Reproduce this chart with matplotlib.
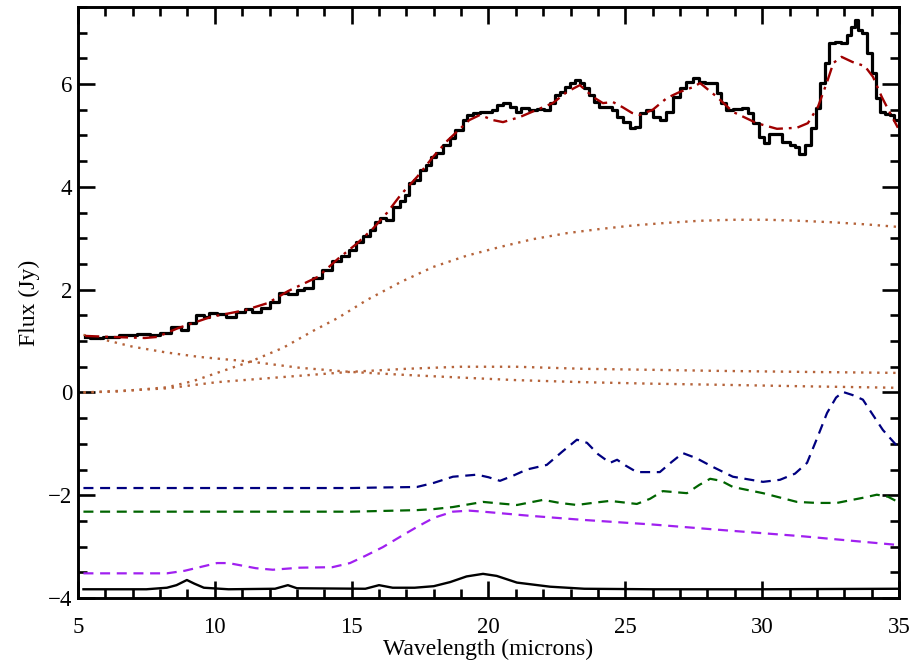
import numpy as np
import matplotlib
matplotlib.use("Agg")
import matplotlib.pyplot as plt
from matplotlib.ticker import MultipleLocator

# --- datos ---
# espectro observado (histograma negro)
obs_wl = [5.26, 5.62, 6.2, 6.83, 7.45, 7.8, 8.18, 8.65, 8.9, 9.13, 9.5, 9.68, 9.93,
          10.22, 10.59, 10.96, 11.28, 11.47, 11.87, 12.2, 12.49, 12.86, 13.15, 13.4,
          13.77, 14.1, 14.46, 14.75, 15.05, 15.3, 15.55, 15.78, 15.96, 16.14, 16.4,
          16.65, 16.85, 17.02, 17.2, 17.38, 17.6, 17.86, 17.97, 18.23, 18.48, 18.7,
          18.85, 19.03, 19.14, 19.32, 19.58, 19.8, 20.0, 20.23, 20.42, 20.67, 20.9,
          21.08, 21.33, 21.62, 21.9, 22.13, 22.35, 22.5, 22.72, 22.9, 23.08, 23.27,
          23.4, 23.6, 23.78, 23.96, 24.14, 24.44, 24.62, 24.8, 25.06, 25.28, 25.46,
          25.64, 25.9, 26.15, 26.37, 26.63, 26.88, 27.1, 27.36, 27.6, 27.8, 28.05,
          28.27, 28.4, 28.57, 28.8, 29.1, 29.4, 29.55, 29.8, 30.0, 30.17, 30.36,
          30.58, 30.9, 31.1, 31.27, 31.45, 31.67, 31.9, 32.04, 32.2, 32.37, 32.55,
          32.77, 33.0, 33.2, 33.3, 33.45, 33.57, 33.75, 33.94, 34.1, 34.23, 34.4,
          34.57, 34.74, 34.92, 35.1]
obs_flux = [1.08, 1.06, 1.08, 1.12, 1.14, 1.12, 1.16, 1.27, 1.22, 1.35, 1.51, 1.47, 1.55,
            1.53, 1.47, 1.57, 1.62, 1.57, 1.64, 1.76, 1.94, 1.92, 1.99, 2.03,
            2.23, 2.38, 2.55, 2.65, 2.77, 2.93, 3.05, 3.16, 3.32, 3.39, 3.36,
            3.61, 3.72, 3.84, 4.07, 4.13, 4.33, 4.43, 4.58, 4.66, 4.81, 4.95,
            5.1, 5.1, 5.3, 5.4, 5.44, 5.46, 5.46, 5.5, 5.59, 5.63, 5.55,
            5.46, 5.54, 5.5, 5.52, 5.5, 5.63, 5.79, 5.85, 5.94, 6.02, 6.08,
            6.02, 5.92, 5.79, 5.65, 5.55, 5.55, 5.5, 5.36, 5.26, 5.15, 5.17,
            5.44, 5.5, 5.36, 5.3, 5.46, 5.75, 5.92, 6.05, 6.12, 6.04, 6.02,
            6.02, 5.83, 5.63, 5.5, 5.52, 5.54, 5.44, 5.24, 4.97, 4.85, 5.03,
            5.03, 4.87, 4.82, 4.78, 4.64, 4.82, 5.15, 5.54, 6.02, 6.41, 6.8,
            6.82, 6.8, 6.96, 7.11, 7.25, 7.05, 6.99, 6.6, 6.22, 5.73, 5.46,
            5.42, 5.4, 5.3, 5.2]

# modelo total (raya-punto rojo)
fit_wl = [5.26, 6.2, 7.45, 7.9, 8.65, 9.86, 11.1, 11.94, 12.67, 13.77, 14.5, 15.2, 15.8,
          16.3, 16.8, 17.4, 18.0, 18.5, 18.9, 19.3, 19.69, 20.16, 20.53, 21.15, 21.77,
          22.35, 22.87, 23.34, 23.82, 24.18, 24.55, 24.9, 25.24, 25.53, 26.0, 26.52,
          27.0, 27.47, 27.73, 28.35, 28.93, 29.8, 30.54, 31.27, 31.67, 32.04, 32.37,
          32.6, 32.9, 33.3, 33.75, 34.05, 34.37, 34.67, 34.96]
fit_flux = [1.1, 1.08, 1.06, 1.08, 1.25, 1.47, 1.6, 1.74, 1.97, 2.25, 2.6, 2.9, 3.2,
            3.5, 3.85, 4.2, 4.6, 4.9, 5.1, 5.3, 5.4, 5.3, 5.26, 5.36, 5.5,
            5.63, 5.85, 5.98, 5.75, 5.63, 5.65, 5.55, 5.44, 5.4, 5.5, 5.73,
            5.85, 5.94, 6.02, 5.75, 5.46, 5.24, 5.13, 5.15, 5.24, 5.56, 6.04,
            6.41, 6.53, 6.43, 6.35, 6.14, 5.75, 5.44, 5.15]

# componentes continuas (punteadas)
warm_wl = [5.2, 6.5, 8.25, 9.2, 10.08, 11.3, 12.5, 13.6, 14.5, 15.56, 16.8, 17.97, 19.2,
           20.42, 21.6, 22.87, 24.07, 25.3, 26.52, 27.7, 28.93, 30.2, 31.38, 32.6, 33.8, 35.0]
warm_flux = [0.0, 0.02, 0.1, 0.22, 0.38, 0.6, 0.87, 1.2, 1.45, 1.8, 2.15, 2.44, 2.66,
             2.83, 2.98, 3.1, 3.18, 3.25, 3.3, 3.34, 3.36, 3.36, 3.34, 3.31, 3.27, 3.22]
hot_wl = [5.2, 6.0, 7.0, 8.2, 9.45, 11.3, 13.1, 14.94, 17.0, 18.96, 21.0, 23.45, 26.0,
          28.35, 31.5, 35.0]
hot_flux = [1.12, 1.02, 0.89, 0.78, 0.69, 0.6, 0.48, 0.4, 0.34, 0.29, 0.24, 0.2, 0.17,
            0.15, 0.12, 0.09]
cool_wl = [5.2, 6.5, 8.25, 10.08, 12.5, 14.94, 17.0, 18.96, 21.0, 23.45, 26.0, 28.35, 31.5, 35.0]
cool_flux = [0.0, 0.03, 0.08, 0.2, 0.3, 0.4, 0.46, 0.5, 0.5, 0.46, 0.44, 0.42, 0.4, 0.38]

# componentes de polvo (discontinuas, desplazadas)
navy_wl = [5.2, 10, 15, 16.0, 17.38, 18.0, 18.7, 19.58, 20.0, 20.42, 20.9, 21.4, 22.13,
           22.7, 23.23, 23.6, 24.0, 24.44, 24.7, 25.0, 25.42, 26.26, 26.7, 27.1, 27.6,
           28.2, 28.93, 30.03, 30.65, 31.2, 31.64, 32.0, 32.37, 32.7, 32.95, 33.3,
           33.68, 34.0, 34.41, 34.96]
navy_flux = [-1.86, -1.86, -1.86, -1.85, -1.84, -1.76, -1.64, -1.6, -1.65, -1.72, -1.62,
             -1.5, -1.41, -1.15, -0.92, -0.98, -1.2, -1.37, -1.31, -1.42, -1.55, -1.55,
             -1.35, -1.18, -1.28, -1.45, -1.64, -1.74, -1.7, -1.58, -1.37, -0.9, -0.4,
             -0.1, 0.01, -0.05, -0.14, -0.4, -0.73, -1.06]
green_wl = [5.2, 15, 17.38, 18.0, 18.7, 19.8, 20.4, 21.04, 22.0, 22.6, 23.23, 23.8, 24.44,
            25.42, 25.9, 26.37, 27.25, 27.7, 28.1, 28.5, 28.93, 30.03, 31.27, 32.0, 32.73,
            33.2, 33.68, 34.19, 34.6, 34.96]
green_flux = [-2.32, -2.32, -2.29, -2.27, -2.23, -2.13, -2.16, -2.19, -2.09, -2.15, -2.19,
              -2.15, -2.11, -2.17, -2.07, -1.92, -1.96, -1.8, -1.68, -1.72, -1.84, -1.96,
              -2.13, -2.15, -2.15, -2.1, -2.05, -1.99, -2.03, -2.13]
purple_wl = [5.2, 8.25, 8.9, 9.45, 10.08, 10.5, 10.9, 11.5, 12.12, 13.1, 14.3, 14.94, 15.5,
             16.14, 16.8, 17.38, 18.0, 18.7, 19.3, 19.8, 21.5, 23.45, 26.0, 28.35, 31.5, 35.0]
purple_flux = [-3.52, -3.52, -3.47, -3.4, -3.32, -3.32, -3.36, -3.42, -3.45, -3.41, -3.4,
               -3.32, -3.18, -3.01, -2.8, -2.62, -2.44, -2.32, -2.3, -2.32, -2.4, -2.48,
               -2.57, -2.67, -2.8, -2.97]
pah_wl = [5.2, 7.5, 8.25, 8.6, 8.98, 9.25, 9.6, 10.5, 12.2, 12.67, 13.0, 15.5, 16.0, 16.5,
          17.3, 18.0, 18.6, 19.2, 19.8, 20.3, 21.04, 22.25, 23.5, 26.0, 30.0, 35.0]
pah_flux = [-3.83, -3.83, -3.8, -3.75, -3.65, -3.72, -3.8, -3.83, -3.82, -3.75, -3.81,
            -3.82, -3.75, -3.8, -3.8, -3.77, -3.69, -3.58, -3.53, -3.57, -3.7, -3.78,
            -3.82, -3.83, -3.83, -3.82]

# --- figura ---
plt.rcParams['font.family'] = ['Liberation Serif', 'DejaVu Serif']

fig = plt.figure(figsize=(9.14, 6.61), dpi=100)
ax = fig.add_axes([0.0853, 0.0953, 0.8983, 0.8941])

dotc = '#b5633a'
for wl, fl in [(warm_wl, warm_flux), (hot_wl, hot_flux), (cool_wl, cool_flux)]:
    ax.plot(wl, fl, color=dotc, lw=1.7, ls=(0, (1, 2.4)))

dash = (0, (4.5, 3))
ax.plot(navy_wl, navy_flux, color='#000080', lw=1.6, ls=dash)
ax.plot(green_wl, green_flux, color='#006400', lw=1.6, ls=dash)
ax.plot(purple_wl, purple_flux, color='#a020f0', lw=1.6, ls=dash)
ax.plot(pah_wl, pah_flux, color='black', lw=1.7)

ax.plot(obs_wl, obs_flux, color='black', lw=2.3, drawstyle='steps-mid')
ax.plot(fit_wl, fit_flux, color='#a00000', lw=1.7, ls=(0, (6, 2.5, 1.2, 2.5)))

ax.set_xlim(5, 35)
ax.set_ylim(-4, 7.5)
ax.xaxis.set_major_locator(MultipleLocator(5))
ax.xaxis.set_minor_locator(MultipleLocator(1))
ax.yaxis.set_major_locator(MultipleLocator(2))
ax.yaxis.set_minor_locator(MultipleLocator(0.5))
ax.tick_params(which='both', direction='in', top=True, right=True, width=1.9,
               labelsize=16.5)
ax.tick_params(axis='x', which='both', pad=14)
ax.tick_params(axis='y', which='both', pad=4)
ax.tick_params(which='major', length=12)
ax.tick_params(which='minor', length=6.5)
for s in ax.spines.values():
    s.set_linewidth(2.1)

ax.set_xlabel('Wavelength (microns)', fontsize=17, labelpad=0)
ax.set_ylabel('Flux (Jy)', fontsize=17, labelpad=6)

fig.savefig('out.png', dpi=100)
